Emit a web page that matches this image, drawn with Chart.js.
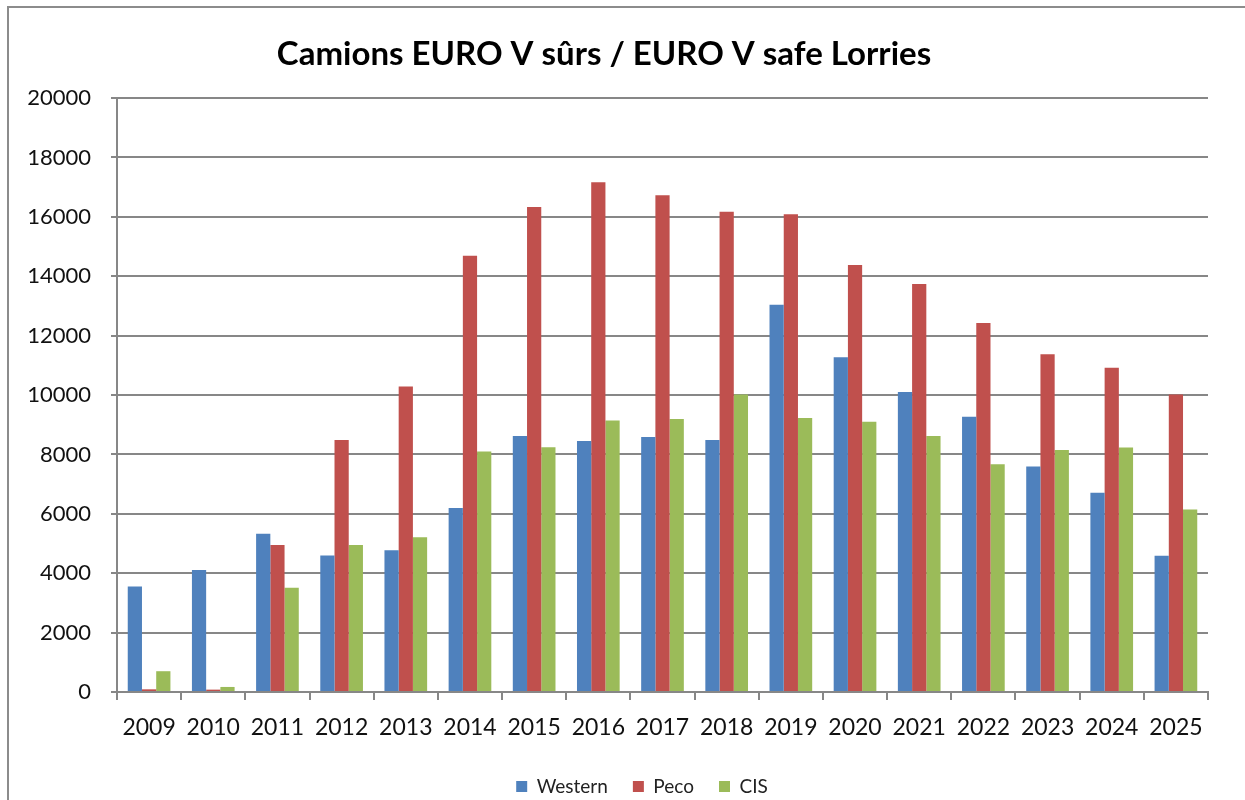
<!DOCTYPE html>
<html>
<head>
<meta charset="utf-8">
<script src="https://cdn.jsdelivr.net/npm/chart.js@4.4.1/dist/chart.umd.min.js"></script>
<style>
  html, body { margin: 0; padding: 0; background: #fff; }
  #wrap { position: relative; width: 1245px; height: 800px; overflow: hidden; }
  #frame { position: absolute; left: 7px; top: 6px; width: 1400px; height: 1000px;
           border-left: 2px solid #8c8c8c; border-top: 2px solid #8c8c8c; }
  canvas { position: absolute; left: 0; top: 0; }
</style>
</head>
<body>
<div id="wrap">
  <div id="frame"></div>
  <canvas id="c" width="1245" height="800"></canvas>
</div>
<script>
const years = ['2009','2010','2011','2012','2013','2014','2015','2016','2017','2018','2019','2020','2021','2022','2023','2024','2025'];
const western = [3550, 4110, 5330, 4600, 4770, 6200, 8620, 8450, 8590, 8490, 13040, 11270, 10100, 9270, 7590, 6710, 4590];
const peco    = [90, 80, 4950, 8490, 10290, 14690, 16330, 17170, 16730, 16170, 16090, 14380, 13740, 12430, 11370, 10920, 10020];
const cis     = [700, 170, 3510, 4950, 5210, 8100, 8240, 9140, 9190, 10020, 9230, 9100, 8620, 7670, 8150, 8230, 6150];
const seriesNames = ['Western', 'Peco', 'CIS'];
const titleText = 'Camions EURO V sûrs / EURO V safe Lorries';

const FONT = 'Lato, "Open Sans", sans-serif';
const GRID = '#878787';

const legendShift = {
  id: 'legendShift',
  afterLayout(chart) {
    const lg = chart.legend;
    if (!lg) return;
    lg.left += 38; lg.right += 38;
    lg.top += 9; lg.bottom += 9;
  }
};

new Chart(document.getElementById('c'), {
  type: 'bar',
  data: {
    labels: years,
    datasets: [
      { label: seriesNames[0], data: western, backgroundColor: '#4F81BD' },
      { label: seriesNames[1], data: peco,    backgroundColor: '#C0504D' },
      { label: seriesNames[2], data: cis,     backgroundColor: '#9BBB59' }
    ]
  },
  plugins: [legendShift],
  options: {
    responsive: false,
    animation: false,
    layout: { padding: { left: 0, right: 37, top: 0, bottom: 3 } },
    datasets: { bar: { categoryPercentage: 0.665, barPercentage: 1.0 } },
    plugins: {
      tooltip: { enabled: false },
      title: {
        display: true,
        text: titleText,
        color: '#000',
        font: { family: FONT, size: 33, weight: 'bold' },
        padding: { top: 35, bottom: 23.5 }
      },
      legend: {
        position: 'bottom',
        labels: {
          color: '#222',
          font: { family: FONT, size: 19 },
          boxWidth: 11,
          boxHeight: 11,
          padding: 25
        }
      }
    },
    scales: {
      x: {
        grid: { display: true, drawOnChartArea: false, drawTicks: true, tickLength: 8, offset: true, color: GRID, lineWidth: 2 },
        border: { display: true, color: GRID, width: 2 },
        ticks: { color: '#111', font: { family: FONT, size: 23 }, padding: 14, maxRotation: 0, autoSkip: false },
        afterFit: (s) => { s.height = 51; }
      },
      y: {
        min: 0, max: 20000,
        grid: { color: GRID, lineWidth: 2, tickLength: 6 },
        border: { display: true, color: GRID, width: 2 },
        ticks: { stepSize: 2000, color: '#111', font: { family: FONT, size: 22 }, padding: 20,
                 callback: (v) => String(v) },
        afterFit: (s) => { s.width = 117; }
      }
    }
  }
});
</script>
</body>
</html>
